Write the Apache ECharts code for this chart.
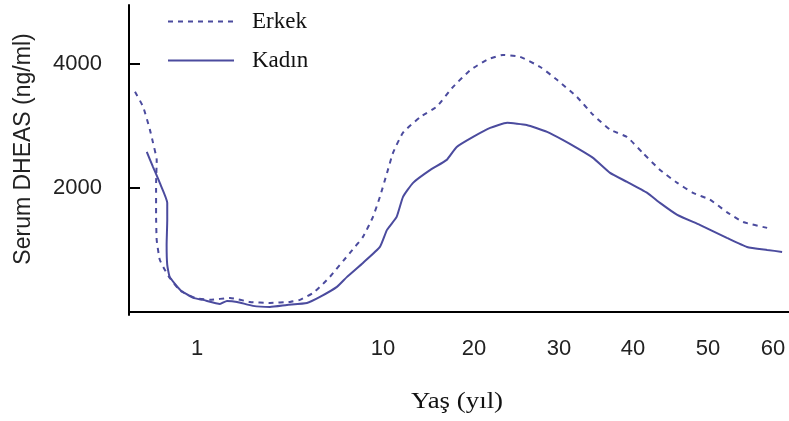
<!DOCTYPE html>
<html><head><meta charset="utf-8">
<script src="https://cdn.jsdelivr.net/npm/echarts@6/dist/echarts.min.js"></script>
<style>html,body{margin:0;padding:0;background:#fff}#c{width:789px;height:421px}</style>
</head><body><div id="c"></div>
<script>
// ---- data ----
const seriesNames = ['Erkek', 'Kadın'];
const xTickAges = [1, 10, 20, 30, 40, 50, 60];
const yTicks = [2000, 4000];
const erkekAge = [0, 0.13, 0.24, 0.29, 0.35, 0.34, 0.34, 0.35, 0.40, 0.48, 0.56, 0.73, 0.97, 1.63, 2.6, 3.56, 4.53, 5.5, 5.98, 6.61, 7.1, 7.43, 8.4, 9.03, 9.51, 9.85, 10.44, 11.1, 12.2, 14.1, 15.9, 17.7, 19.6, 21.5, 23.4, 25.4, 27.8, 29.8, 32.4, 34.6, 36.9, 39.2, 41.3, 43.6, 45.9, 48, 50.3, 52.9, 55.4, 59.1];
const erkekVal = [3550, 3310, 2940, 2730, 2450, 2050, 1570, 1160, 840, 680, 550, 340, 226, 194, 226, 161, 145, 161, 194, 306, 452, 565, 952, 1210, 1530, 1855, 2240, 2565, 2890, 3145, 3310, 3630, 3900, 4065, 4145, 4115, 3950, 3740, 3470, 3180, 2940, 2820, 2565, 2290, 2080, 1920, 1810, 1610, 1450, 1355];
const kadinAge = [0.19, 0.29, 0.40, 0.52, 0.52, 0.51, 0.52, 0.56, 0.73, 0.94, 1.29, 2.11, 2.45, 2.94, 3.71, 4.53, 5.35, 6.32, 6.95, 7.77, 8.26, 9.03, 9.85, 10.44, 11.5, 12.2, 13.3, 15.2, 17.0, 18.1, 19.9, 21.9, 23.9, 26.2, 28.6, 30.5, 32.4, 34.6, 36.9, 39.2, 41.9, 43.6, 45.9, 48.9, 52.9, 56.0, 59.1, 61.4];
const kadinVal = [2580, 2340, 2080, 1760, 1480, 1080, 760, 565, 355, 226, 194, 129, 177, 161, 97, 81, 113, 145, 242, 403, 565, 790, 1048, 1323, 1532, 1855, 2081, 2290, 2452, 2661, 2823, 2968, 3049, 3016, 2903, 2774, 2645, 2484, 2242, 2097, 1919, 1758, 1565, 1403, 1194, 1048, 1000, 968];

// ---- non-uniform age scale of the original figure (age -> axis position) ----
const scaleAges = [0, 1, 10, 20, 30, 40, 50, 60, 70];
const scalePos  = [6, 68, 254, 345, 430, 504, 579, 644, 709];
function pos(a) {
  for (let i = 0; i < scaleAges.length - 1; i++) {
    if (a <= scaleAges[i + 1] || i === scaleAges.length - 2) {
      const t = (a - scaleAges[i]) / (scaleAges[i + 1] - scaleAges[i]);
      return scalePos[i] + t * (scalePos[i + 1] - scalePos[i]);
    }
  }
}
const tickPos = xTickAges.map(pos);
const color = '#4b4b9e';

const chart = echarts.init(document.getElementById('c'));
chart.setOption({
  animation: false,
  backgroundColor: '#fff',
  grid: { left: 129, right: 0, top: 5, bottom: 106 },
  legend: {
    orient: 'vertical', left: 167, top: 10, padding: 0,
    itemWidth: 66, itemHeight: 23, itemGap: 16,
    data: seriesNames,
    itemStyle: { opacity: 0 },
    textStyle: { fontFamily: 'Liberation Serif', fontSize: 23, color: '#111', padding: [0, 0, 0, 13] }
  },
  xAxis: {
    type: 'value', min: 0, max: 660,
    axisLine: { show: true, lineStyle: { color: '#000', width: 2 } },
    axisTick: { show: false },
    splitLine: { show: false },
    axisLabel: {
      customValues: tickPos, margin: 23,
      fontFamily: 'Liberation Sans', fontSize: 22, color: '#222',
      formatter: v => { const i = tickPos.findIndex(p => Math.abs(p - v) < 0.5); return i >= 0 ? String(xTickAges[i]) : ''; }
    }
  },
  yAxis: {
    type: 'value', min: -50, max: 4950,
    axisLine: { show: true, lineStyle: { color: '#000', width: 2 } },
    axisTick: { show: true, inside: true, length: 11, customValues: yTicks, lineStyle: { color: '#000', width: 2 } },
    splitLine: { show: false },
    axisLabel: { customValues: yTicks, margin: 27, padding: [0, 0, 5, 0], fontFamily: 'Liberation Sans', fontSize: 22, color: '#222', formatter: v => String(v) }
  },
  graphic: [
    { type: 'text', x: 457, y: 402, scaleX: 1.12, style: { text: 'Yaş (yıl)', font: '24px "Liberation Serif"', fill: '#111', align: 'center', verticalAlign: 'middle' } },
    { type: 'text', x: 24, y: 149, rotation: Math.PI / 2, style: { text: 'Serum DHEAS (ng/ml)', font: '23px "Liberation Sans"', fill: '#222', align: 'center', verticalAlign: 'middle' } }
  ],
  series: [
    { name: seriesNames[0], type: 'line', symbol: 'none', smooth: 0.15,
      data: erkekAge.map((a, i) => [pos(a), erkekVal[i]]),
      lineStyle: { color: color, width: 2, type: [5, 5] }, itemStyle: { color: color } },
    { name: seriesNames[1], type: 'line', symbol: 'none', smooth: 0.15,
      data: kadinAge.map((a, i) => [pos(a), kadinVal[i]]),
      lineStyle: { color: color, width: 2 }, itemStyle: { color: color } }
  ]
});
</script></body></html>
